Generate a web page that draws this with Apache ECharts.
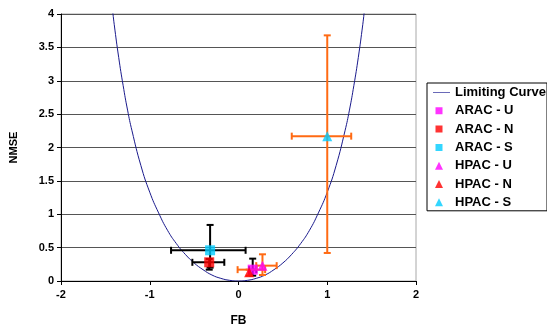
<!DOCTYPE html>
<html>
<head>
<meta charset="utf-8">
<script src="https://cdn.jsdelivr.net/npm/echarts@6/dist/echarts.min.js"></script>
<style>
html,body{margin:0;padding:0;background:#fff;}
#chart{width:547px;height:332px;}
</style>
</head>
<body>
<div id="chart"></div>
<script>
// Limiting curve
const curveFB   = [-1.42,-1.4,-1.35,-1.3,-1.25,-1.2,-1.1,-1.0,-0.9,-0.8,-0.7,-0.6,-0.5,-0.4,-0.3,-0.2,-0.1,0,0.1,0.2,0.3,0.4,0.5,0.6,0.7,0.8,0.9,1.0,1.1,1.2,1.25,1.3,1.35,1.4,1.42];
const curveNMSE = [4.07,3.84,3.35,2.93,2.56,2.25,1.73,1.33,1.02,0.76,0.56,0.40,0.27,0.17,0.09,0.04,0.01,0,0.01,0.04,0.09,0.17,0.27,0.40,0.56,0.76,1.02,1.33,1.73,2.25,2.56,2.93,3.35,3.84,4.07];

// Model points: [FB, NMSE]
const aracU = [0.16, 0.17];
const aracN = [-0.33, 0.28];
const aracS = [-0.32, 0.46];
const hpacU = [0.27, 0.23];
const hpacN = [0.12, 0.13];
const hpacS = [1.0, 2.17];

// Error bars: [FB, NMSE, FBlow, FBhigh, NMSElow, NMSEhigh]
const aracUErr = [0.16, 0.17, 0.12, 0.20, 0.08, 0.335];
const aracNErr = [-0.33, 0.28, -0.52, -0.16, 0.17, 0.33];
const aracSErr = [-0.32, 0.46, -0.76, 0.08, 0.20, 0.84];
const hpacUErr = [0.27, 0.23, 0.20, 0.43, 0.09, 0.40];
const hpacNErr = [0.12, 0.17, -0.01, 0.30, 0.08, 0.17];
const hpacSErr = [1.0, 2.17, 0.60, 1.27, 0.42, 3.68];

const xTicks = [-2, -1, 0, 1, 2];
const yTicks = [0, 0.5, 1, 1.5, 2, 2.5, 3, 3.5, 4];

const FONT = '"Liberation Sans", Arial, sans-serif';
const ORANGE = '#ff6a13';

// legend icons: tiny corner dots fix the 17x13 box so the marker keeps its size/position
const BOX = 'M0,0h0.01v0.01h-0.01z M17,13h-0.01v-0.01h0.01z ';
const ICON_LINE = 'path://' + BOX + 'M0,6h17v1h-17z';
const ICON_SQ = 'path://' + BOX + 'M2.5,3h7v7h-7z';
const ICON_TRI = 'path://' + BOX + 'M6,2.5L10,10.5L2,10.5z';

function errSeries(data, color) {
  return {
    type: 'custom',
    silent: true,
    z: 3,
    encode: { x: [0, 2, 3], y: [1, 4, 5] },
    data: data,
    renderItem: function (params, api) {
      const x = api.value(0), y = api.value(1);
      const l = api.coord([api.value(2), y]);
      const r = api.coord([api.value(3), y]);
      const b = api.coord([x, api.value(4)]);
      const t = api.coord([x, api.value(5)]);
      const cap = 3.5;
      const st = { stroke: color, lineWidth: 2 };
      const ln = (x1, y1, x2, y2) => ({ type: 'line', shape: { x1, y1, x2, y2 }, style: st });
      return {
        type: 'group',
        children: [
          ln(l[0], l[1], r[0], r[1]),
          ln(l[0], l[1] - cap, l[0], l[1] + cap),
          ln(r[0], r[1] - cap, r[0], r[1] + cap),
          ln(b[0], b[1], t[0], t[1]),
          ln(b[0] - cap, b[1], b[0] + cap, b[1]),
          ln(t[0] - cap, t[1], t[0] + cap, t[1])
        ]
      };
    }
  };
}

const chart = echarts.init(document.getElementById('chart'));
chart.setOption({
  animation: false,
  backgroundColor: '#fff',
  grid: { left: 58, right: 131, top: 14, bottom: 50, show: true, borderColor: '#a8a8a8', borderWidth: 1 },
  xAxis: {
    type: 'value', min: xTicks[0], max: xTicks[xTicks.length - 1], interval: 1,
    name: 'FB', nameLocation: 'middle', nameGap: 34,
    nameTextStyle: { fontFamily: FONT, fontWeight: 'bold', fontSize: 12, color: '#000' },
    axisLine: { onZero: false, lineStyle: { color: '#000', width: 1 } },
    axisTick: { show: true, length: 4, lineStyle: { color: '#000' } },
    axisLabel: { fontFamily: FONT, fontWeight: 'bold', fontSize: 11, color: '#000', margin: 8 },
    splitLine: { show: false }
  },
  yAxis: {
    type: 'value', min: yTicks[0], max: yTicks[yTicks.length - 1], interval: 0.5,
    name: 'NMSE', nameLocation: 'middle', nameGap: 42,
    nameTextStyle: { fontFamily: FONT, fontWeight: 'bold', fontSize: 11, color: '#000' },
    axisLine: { show: true, onZero: false, lineStyle: { color: '#000', width: 1 } },
    axisTick: { show: true, length: 4, lineStyle: { color: '#000' } },
    axisLabel: { fontFamily: FONT, fontWeight: 'bold', fontSize: 11, color: '#000', margin: 7 },
    splitLine: { show: true, lineStyle: { color: '#555', width: 1 } }
  },
  legend: {
    orient: 'vertical', left: 427, top: 83,
    padding: [3, 1, 2, 6], itemGap: 5.3, itemWidth: 17, itemHeight: 13,
    borderColor: '#000', borderWidth: 1, backgroundColor: '#fff',
    textStyle: { fontFamily: FONT, fontWeight: 'bold', fontSize: 13, lineHeight: 13, color: '#000' },
    data: [
      { name: 'Limiting Curve', icon: ICON_LINE },
      { name: 'ARAC - U', icon: ICON_SQ },
      { name: 'ARAC - N', icon: ICON_SQ },
      { name: 'ARAC - S', icon: ICON_SQ },
      { name: 'HPAC - U', icon: ICON_TRI },
      { name: 'HPAC - N', icon: ICON_TRI },
      { name: 'HPAC - S', icon: ICON_TRI }
    ]
  },
  series: [
    {
      name: 'Limiting Curve', type: 'line', smooth: true, symbol: 'none', z: 1,
      lineStyle: { color: '#1a1a8c', width: 1 }, itemStyle: { color: '#6a6ab8' },
      data: curveFB.map((f, i) => [f, curveNMSE[i]])
    },
    errSeries([aracSErr, aracNErr, aracUErr], '#000'),
    errSeries([hpacSErr, hpacNErr, hpacUErr], ORANGE),
    { name: 'ARAC - U', type: 'scatter', symbol: 'rect', symbolSize: 10, z: 5, itemStyle: { color: '#ff00ff' }, data: [aracU] },
    { name: 'ARAC - N', type: 'scatter', symbol: 'rect', symbolSize: 10, z: 5, itemStyle: { color: '#ff0000' }, data: [aracN] },
    { name: 'ARAC - S', type: 'scatter', symbol: 'rect', symbolSize: 10, z: 5, itemStyle: { color: '#00ccff' }, data: [aracS] },
    { name: 'HPAC - U', type: 'scatter', symbol: 'triangle', symbolSize: 10, z: 5, itemStyle: { color: '#ff00ff' }, data: [hpacU] },
    { name: 'HPAC - N', type: 'scatter', symbol: 'triangle', symbolSize: 10, z: 5, itemStyle: { color: '#ff0000' }, data: [hpacN] },
    { name: 'HPAC - S', type: 'scatter', symbol: 'triangle', symbolSize: 10, z: 5, itemStyle: { color: '#00ccff' }, data: [hpacS] }
  ]
});
</script>
</body>
</html>
